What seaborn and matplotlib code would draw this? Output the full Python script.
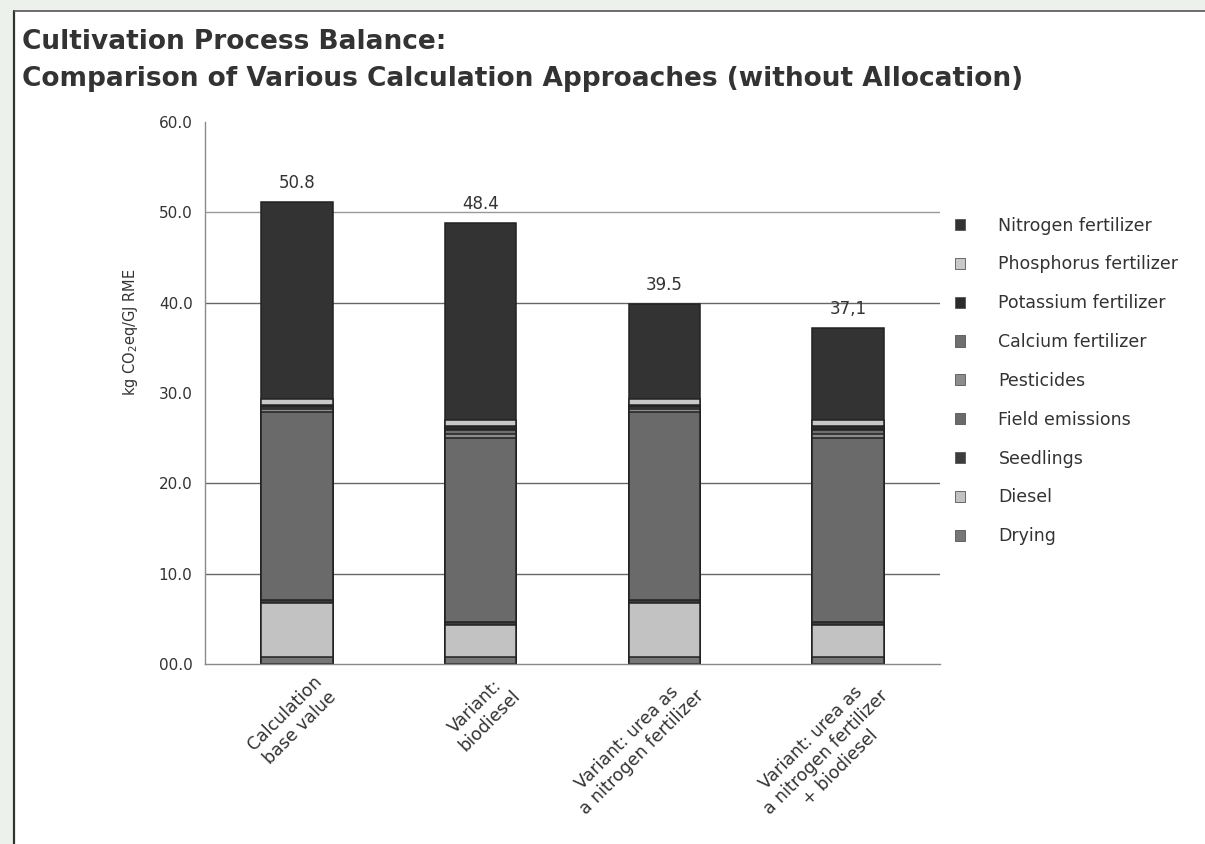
import numpy as np
import pandas as pd
import seaborn as sns
import matplotlib.pyplot as plt
import matplotlib.transforms as mtransforms
from matplotlib.patches import Patch, Rectangle
from matplotlib.lines import Line2D

# Data (kg CO2eq/GJ RME)
categories = ["Calculation\nbase value",
              "Variant:\nbiodiesel",
              "Variant: urea as\na nitrogen fertilizer",
              "Variant: urea as\na nitrogen fertilizer\n+ biodiesel"]
# components, bottom to top
drying = [0.8, 0.8, 0.8, 0.8]
diesel = [6.0, 3.5, 6.0, 3.5]
seedlings = [0.3, 0.4, 0.3, 0.4]
field_emissions = [20.8, 20.3, 20.8, 20.3]
pesticides = [0.3, 0.5, 0.3, 0.5]
calcium = [0.2, 0.4, 0.2, 0.4]
potassium = [0.3, 0.5, 0.3, 0.5]
phosphorus = [0.6, 0.6, 0.6, 0.6]
nitrogen = [21.8, 21.8, 10.6, 10.2]
total_labels = ["50.8", "48.4", "39.5", "37,1"]

components = ["Drying", "Diesel", "Seedlings", "Field emissions", "Pesticides",
              "Calcium fertilizer", "Potassium fertilizer", "Phosphorus fertilizer",
              "Nitrogen fertilizer"]
values = [drying, diesel, seedlings, field_emissions, pesticides,
          calcium, potassium, phosphorus, nitrogen]
colors = {"Nitrogen fertilizer": "#333333",
          "Phosphorus fertilizer": "#c9c9c9",
          "Potassium fertilizer": "#2b2b2b",
          "Calcium fertilizer": "#6f6f6f",
          "Pesticides": "#8c8c8c",
          "Field emissions": "#6a6a6a",
          "Seedlings": "#3c3c3c",
          "Diesel": "#c2c2c2",
          "Drying": "#767676"}

df = pd.DataFrame(dict(zip(components, values)))
df["category"] = categories
cum = df[components].cumsum(axis=1)
cum["category"] = categories

sns.set_style("white")
plt.rcParams["font.family"] = ["DejaVu Sans"]

fig = plt.figure(figsize=(12.05, 8.44), dpi=100)
fig.patch.set_facecolor("#edf1ec")
# white panel with dark frame on left/top
fig.patches.append(Rectangle((14 / 1205, 0), 1, 1 - 11 / 844, transform=fig.transFigure,
                             facecolor="white", edgecolor="none", zorder=-5))
fig.lines.append(Line2D([14 / 1205, 14 / 1205], [0, 1 - 11 / 844], transform=fig.transFigure,
                        color="#333333", lw=1.6, zorder=-4))
fig.lines.append(Line2D([14 / 1205, 1], [1 - 11 / 844, 1 - 11 / 844], transform=fig.transFigure,
                        color="#555555", lw=1.2, zorder=-4))

ax = fig.add_axes([205 / 1205, 1 - 664 / 844, 735 / 1205, 542 / 844])
ax.set_facecolor("none")

# gridlines
for g in [10, 20, 40, 50]:
    ax.axhline(g, color="#666666" if g != 50 else "#999999", lw=1.0, zorder=0)

# stacked bars: draw cumulative totals from top component down
for comp in components[::-1]:
    sns.barplot(data=cum, x="category", y=comp, color=colors[comp], width=0.39,
                edgecolor="#222222", linewidth=1.1, saturation=1, ax=ax, zorder=2)

totals = cum["Nitrogen fertilizer"].values
for i, (t, lab) in enumerate(zip(totals, total_labels)):
    ax.text(i, t + 1.1, lab, ha="center", va="bottom", fontsize=12, color="#333333")

ax.set_xlim(-0.5, 3.5)
ax.set_ylim(0, 60)
ax.set_yticks([0, 10, 20, 30, 40, 50, 60])
ax.set_yticklabels(["00.0", "10.0", "20.0", "30.0", "40.0", "50.0", "60.0"],
                   fontsize=11, color="#333333")
ax.set_xticks(range(len(categories)))
ax.set_xticklabels(categories, rotation=45, ha="right", rotation_mode="anchor",
                   multialignment="center", fontsize=12.5, color="#333333")
ax.tick_params(axis="x", length=0, pad=6)
shift = mtransforms.ScaledTranslation(16 / 100, 0, fig.dpi_scale_trans)
for lbl in ax.get_xticklabels():
    lbl.set_transform(lbl.get_transform() + shift)
ax.tick_params(axis="y", length=3, color="#888888", pad=6)
ax.set_xticks([2.5], minor=True)
ax.tick_params(axis="x", which="minor", length=4, color="#444444", direction="out")
ax.set_xlabel("")
ax.set_ylabel("")
for s in ["top", "right"]:
    ax.spines[s].set_visible(False)
for s in ["left", "bottom"]:
    ax.spines[s].set_color("#8a8a8a")
    ax.spines[s].set_linewidth(1.0)

fig.text(130 / 1205, 1 - 332 / 844, "kg CO$_2$eq/GJ RME", rotation=90,
         ha="center", va="center", fontsize=10.5, color="#333333")

fig.text(22 / 1205, 1 - 49 / 844, "Cultivation Process Balance:", fontsize=19,
         fontweight="bold", color="#333333", va="baseline")
fig.text(22 / 1205, 1 - 86 / 844,
         "Comparison of Various Calculation Approaches (without Allocation)",
         fontsize=19, fontweight="bold", color="#333333", va="baseline")

handles = [Patch(facecolor=colors[c], edgecolor="#555555", linewidth=0.6)
           for c in components[::-1]]
fig.legend(handles, components[::-1], loc="upper left",
           bbox_to_anchor=(939 / 1205, 1 - 201 / 844), frameon=False,
           fontsize=12.5, handlelength=0.62, handleheight=0.62,
           handletextpad=1.9, labelspacing=1.2, labelcolor="#333333")

fig.savefig("out.png", dpi=100, facecolor=fig.get_facecolor())
